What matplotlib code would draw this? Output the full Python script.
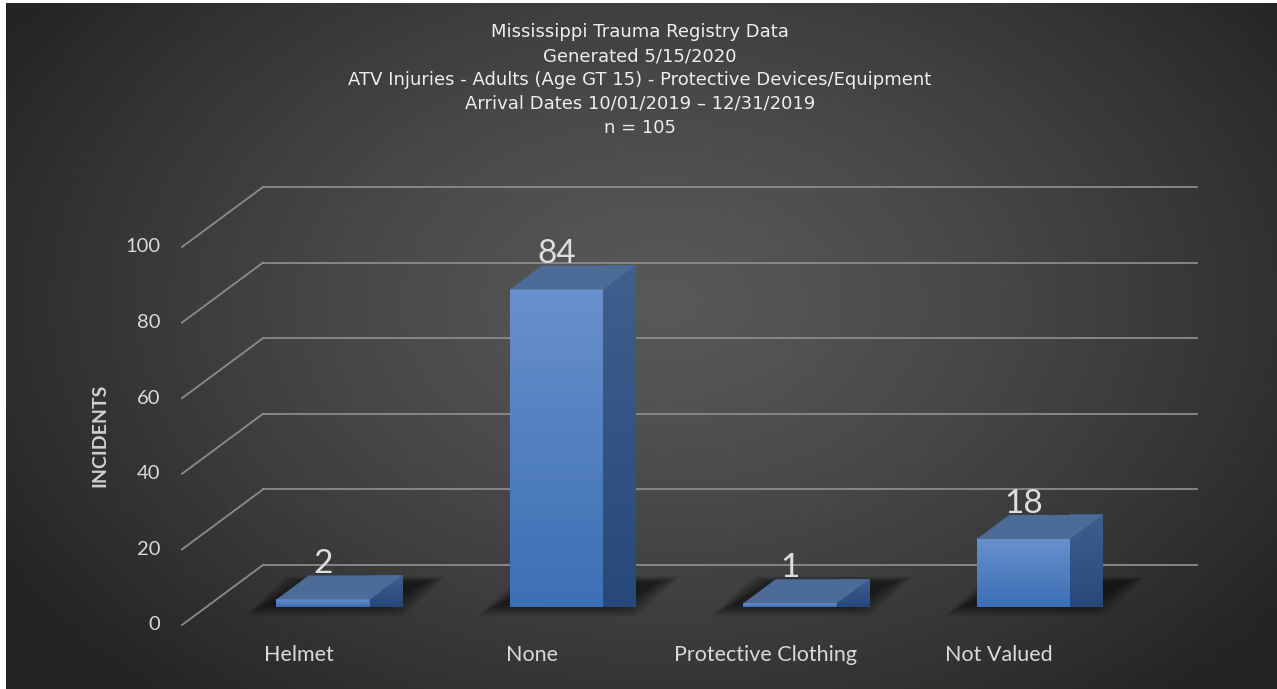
import numpy as np
import matplotlib
matplotlib.use("Agg")
import matplotlib.pyplot as plt
from matplotlib.patches import Polygon
from matplotlib.colors import LinearSegmentedColormap

# ---------------- data ----------------
categories = ["Helmet", "None", "Protective Clothing", "Not Valued"]
values = [2, 84, 1, 18]
y_ticks = [0, 20, 40, 60, 80, 100]
title_lines = [
    "Mississippi Trauma Registry Data",
    "Generated 5/15/2020",
    "ATV Injuries - Adults (Age GT 15) - Protective Devices/Equipment",
    "Arrival Dates 10/01/2019 \u2013 12/31/2019",
    "n = 105",
]
y_label = "INCIDENTS"

# ---------------- figure ----------------
W, H = 1277, 689
fig = plt.figure(figsize=(W / 100, H / 100), dpi=100, facecolor="white")

# background with radial gradient
bg = fig.add_axes([6 / W, 0, 1 - 6 / W, 1 - 3 / H])
bg.set_axis_off()
yy, xx = np.mgrid[0:H, 0:W]
r = np.sqrt(((xx - 660) / 760.0) ** 2 + ((yy - 300) / 520.0) ** 2)
t = np.clip(r, 0, 1) ** 1.3
c_center = np.array([0.345, 0.345, 0.345])
c_edge = np.array([0.145, 0.145, 0.145])
img = c_center[None, None, :] * (1 - t[..., None]) + c_edge[None, None, :] * t[..., None]
bg.imshow(img, aspect="auto", extent=[0, 1, 0, 1], origin="upper")
bg.set_xlim(0, 1)
bg.set_ylim(0, 1)

# main axes = front plane (x: categories, y: values)
ax_left, ax_right = 182, 1116
ax_bottom_px, ax_top_px = 625, 247
ax = fig.add_axes([ax_left / W, (H - ax_bottom_px) / H,
                   (ax_right - ax_left) / W, (ax_bottom_px - ax_top_px) / H])
ax.set_xlim(-0.5, len(categories) - 0.5)
ax.set_ylim(0, 100)
ax.set_axis_off()
ax.patch.set_alpha(0)

# depth offsets in data units (full floor depth)
px_per_cat = (ax_right - ax_left) / len(categories)
px_per_val = (ax_bottom_px - ax_top_px) / 100.0
DX = 81 / px_per_cat
DY = 60 / px_per_val

grid_color = "#8c8c8c"
# gridlines: diagonal from front to back, then horizontal along back wall
for v in y_ticks:
    ax.plot([-0.5, -0.5 + DX], [v, v + DY], color=grid_color, lw=1.3, clip_on=False, zorder=1)
    ax.plot([-0.5 + DX, len(categories) - 0.5 + DX], [v + DY, v + DY],
            color=grid_color, lw=1.3, clip_on=False, zorder=1)
    ax.text(-0.5 - 22 / px_per_cat, v, str(v), ha="right", va="center",
            fontsize=14.5, color="#d9d9d9", family="Lato", clip_on=False)

# bars
bw = 0.4
z0, z1 = 0.3, 0.7
front_cmap = LinearSegmentedColormap.from_list("f", ["#6890cc", "#3c6fb4"])
side_cmap = LinearSegmentedColormap.from_list("s", ["#3f5f8e", "#27497a"])
top_color = "#4c6b97"

for i, v in enumerate(values):
    xl = i - bw / 2 + z0 * DX
    xr = i + bw / 2 + z0 * DX
    yb = z0 * DY
    ddx = (z1 - z0) * DX
    ddy = (z1 - z0) * DY
    # shadow on the floor
    for k in range(8):
        e = 0.012 * (k + 1)
        ey = 1.2 * (k + 1) * 0.35
        sh = Polygon([(xl - e - 0.04, yb - ey + 1.0), (xr + e + 0.05, yb - ey + 1.0),
                      (xr + ddx + e + 0.09, yb + ddy + ey * 0.5),
                      (xl + ddx - e, yb + ddy + ey * 0.5)],
                     closed=True, facecolor="black", edgecolor="none",
                     alpha=0.085, zorder=2, clip_on=False)
        ax.add_patch(sh)
    # front face with vertical gradient
    grad = np.linspace(0, 1, 64)[:, None]
    ax.imshow(grad, cmap=front_cmap, aspect="auto",
              extent=[xl, xr, yb, yb + v], origin="upper", zorder=4, clip_on=False)
    # side face
    side = Polygon([(xr, yb), (xr + ddx, yb + ddy), (xr + ddx, yb + ddy + v), (xr, yb + v)],
                   closed=True, facecolor=side_cmap(0.6), edgecolor="none", zorder=4, clip_on=False)
    ax.add_patch(side)
    sim = ax.imshow(grad, cmap=side_cmap, aspect="auto",
                    extent=[xr, xr + ddx, yb, yb + ddy + v], origin="upper", zorder=4, clip_on=False)
    sim.set_clip_path(side)
    # top face
    top = Polygon([(xl, yb + v), (xr, yb + v), (xr + ddx, yb + ddy + v), (xl + ddx, yb + ddy + v)],
                  closed=True, facecolor=top_color, edgecolor="none", zorder=5, clip_on=False)
    ax.add_patch(top)
    # data label
    ax.text(i + z0 * DX, v + z1 * DY - 1.0, str(v), ha="center", va="bottom",
            fontsize=24, color="#dedede", family="Lato", zorder=6, clip_on=False)

# category labels
for i, c in enumerate(categories):
    ax.text(i, -30 / px_per_val, c, ha="center", va="center", fontsize=15.5,
            color="#d9d9d9", family="Lato", clip_on=False)

# y-axis title
fig.text(100 / W, 1 - 435 / H, y_label, rotation=90, ha="center", va="center",
         fontsize=14, fontweight="bold", color="#d0d0d0", family="Lato")

# chart title
fig.text(640 / W, 1 - 80 / H, "\n".join(title_lines), ha="center", va="center",
         fontsize=13, color="#eeeeee", family="DejaVu Sans", linespacing=1.42)

fig.savefig("out.png", dpi=100, facecolor=fig.get_facecolor())
